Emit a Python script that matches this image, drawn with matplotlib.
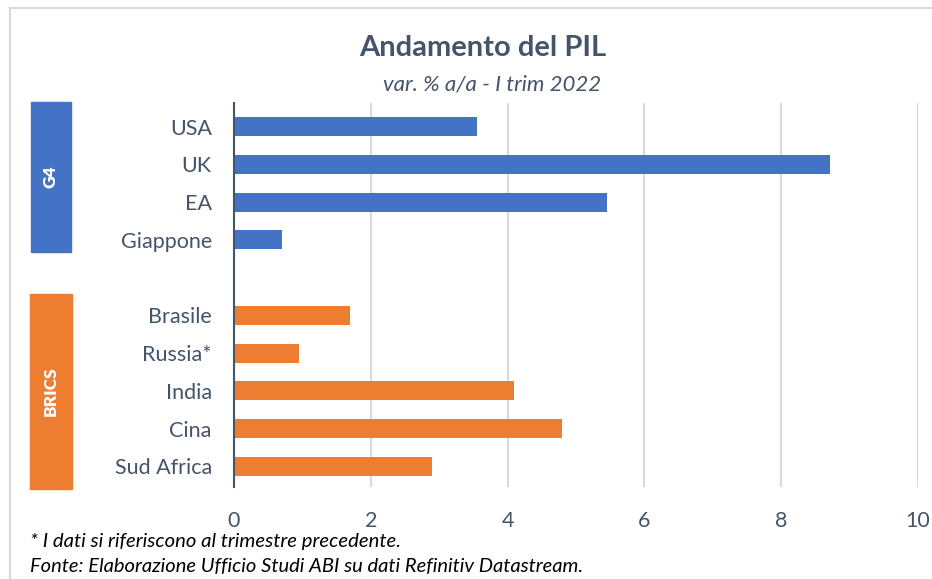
import matplotlib.pyplot as plt
from matplotlib.patches import Rectangle

# --- Data ---
g4_labels = ["USA", "UK", "EA", "Giappone"]
g4_values = [3.55, 8.71, 5.45, 0.7]
brics_labels = ["Brasile", "Russia*", "India", "Cina", "Sud Africa"]
brics_values = [1.7, 0.95, 4.09, 4.8, 2.9]
x_ticks = [0, 2, 4, 6, 8, 10]

BLUE = "#4472C4"
ORANGE = "#ED7D31"
TEXT = "#44546A"

plt.rcParams['font.family'] = ['Lato', 'DejaVu Sans']

W, H = 932, 579
fig = plt.figure(figsize=(W / 100, H / 100), dpi=100)

# axes in pixel coords of the reference
left, right, top, bottom = 234, 918, 103, 487
ax = fig.add_axes([left / W, 1 - bottom / H, (right - left) / W, (bottom - top) / H])

g4_pos = list(range(len(g4_labels)))
brics_pos = [len(g4_labels) + 1 + i for i in range(len(brics_labels))]

ax.barh(g4_pos, g4_values, height=0.5, color=BLUE, zorder=3)
ax.barh(brics_pos, brics_values, height=0.5, color=ORANGE, zorder=3)

ax.set_yticks(g4_pos + brics_pos)
ax.set_yticklabels(g4_labels + brics_labels)
ax.set_ylim(brics_pos[-1] + 0.55, -0.63)
ax.set_xlim(x_ticks[0], x_ticks[-1])
ax.set_xticks(x_ticks)

ax.tick_params(axis='y', length=0, pad=16, labelsize=15.5, labelcolor=TEXT)
ax.tick_params(axis='x', length=0, pad=17, labelsize=15.5, labelcolor=TEXT)
ax.grid(axis='x', color="#D9D9D9", linewidth=1.5, zorder=0)
for s in ['top', 'right', 'bottom']:
    ax.spines[s].set_visible(False)
ax.spines['left'].set_color(TEXT)
ax.spines['left'].set_linewidth(1.5)
ax.spines['left'].set_zorder(4)

# --- Group boxes ---
def group_box(x0, y0, x1, y1, color, label):
    fig.patches.append(Rectangle((x0 / W, 1 - y1 / H), (x1 - x0) / W, (y1 - y0) / H,
                                 transform=fig.transFigure, color=color, zorder=1))
    fig.text((x0 + x1) / 2 / W, 1 - (y0 + y1) / 2 / H, label, rotation=90,
             color="white", fontsize=12.5, fontweight='heavy', ha='center', va='center')

group_box(31, 102, 71, 252, BLUE, "G4")
group_box(30, 294, 72, 489, ORANGE, "BRICS")

# --- Frame ---
fig.add_artist(plt.Line2D([10 / W, 10 / W], [0, 1 - 8 / H], transform=fig.transFigure,
                          color="#D9D9D9", linewidth=1.5))
fig.add_artist(plt.Line2D([10 / W, 1], [1 - 8 / H, 1 - 8 / H], transform=fig.transFigure,
                          color="#D9D9D9", linewidth=1.5))

# --- Titles ---
fig.text(483 / W, 1 - 48 / H, "Andamento del PIL", ha='center', va='center',
         fontsize=21, fontweight='bold', color=TEXT)
fig.text(492 / W, 1 - 84 / H, "var. % a/a - I trim 2022", ha='center', va='center',
         fontsize=16, style='italic', color=TEXT)

# --- Footnotes ---
fig.text(30 / W, 1 - 541 / H, "* I dati si riferiscono al trimestre precedente.",
         ha='left', va='center', fontsize=14.6, style='italic', color="black")
fig.text(30 / W, 1 - 567 / H, "Fonte: Elaborazione Ufficio Studi ABI su dati Refinitiv Datastream.",
         ha='left', va='center', fontsize=14.5, style='italic', color="black")

fig.savefig("out.png", dpi=100)
